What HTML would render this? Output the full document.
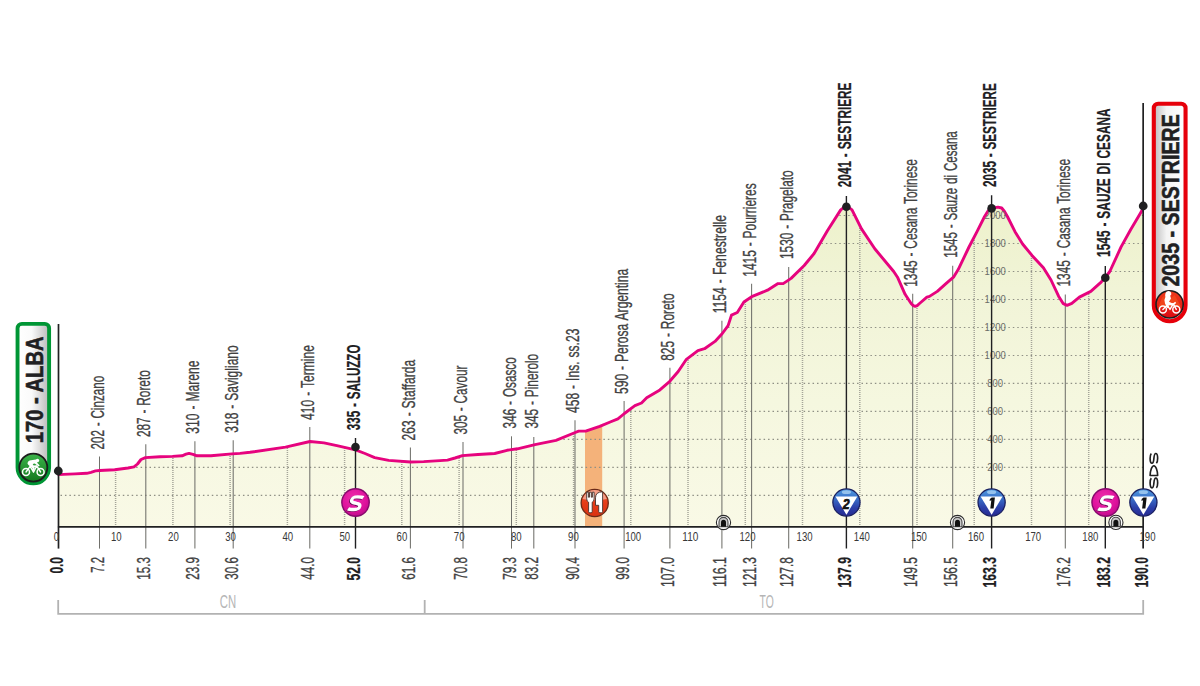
<!DOCTYPE html>
<html><head><meta charset="utf-8"><title>Stage profile</title>
<style>html,body{margin:0;padding:0;background:#fff;}svg{display:block;}</style></head><body>
<svg width="1200" height="686" viewBox="0 0 1200 686">
<defs>
<linearGradient id="gfill" x1="0" y1="205" x2="0" y2="527" gradientUnits="userSpaceOnUse"><stop offset="0" stop-color="#edf1cb"/><stop offset="0.26" stop-color="#f1f4d7"/><stop offset="0.61" stop-color="#f5f7df"/><stop offset="1" stop-color="#f9f9e6"/></linearGradient>
<clipPath id="cp"><polygon points="58.7,474.6 63.1,474.4 75.0,473.9 86.7,473.3 91.0,472.3 95.5,470.9 99.8,470.5 114.7,469.8 128.0,468.0 134.0,466.9 137.5,464.0 141.0,459.5 145.4,457.6 160.0,456.8 172.5,456.4 182.1,455.8 186.0,454.2 189.1,453.4 193.0,454.3 197.0,455.8 211.0,455.8 232.0,453.9 240.0,453.4 250.0,452.3 285.5,447.1 310.0,441.5 324.0,442.9 338.0,445.9 355.5,449.9 365.0,453.5 374.7,457.6 388.7,460.4 410.6,462.0 423.7,461.6 440.0,460.6 447.5,460.1 455.0,458.0 462.4,455.6 478.0,454.5 494.7,453.5 507.0,450.3 517.5,448.8 535.0,444.7 556.0,440.4 575.2,432.5 578.7,431.1 585.7,431.1 599.7,426.4 610.2,422.0 617.9,418.8 624.4,413.5 634.9,405.7 641.5,403.0 646.7,397.8 659.9,389.9 669.8,381.3 678.2,371.5 686.1,359.7 697.9,350.6 704.5,348.7 715.0,341.4 722.3,333.5 728.1,325.6 731.5,315.1 737.3,312.5 743.9,302.0 751.7,296.7 767.5,290.2 778.0,283.6 783.2,283.6 791.1,278.4 804.2,265.5 814.1,253.5 827.4,230.8 840.7,209.9 844.0,207.4 846.4,206.9 849.0,207.6 852.0,209.9 861.5,228.9 874.8,248.8 893.7,271.5 897.5,277.2 905.1,294.3 911.3,303.7 913.3,305.6 915.2,306.3 917.2,305.6 919.5,303.5 926.9,297.1 929.5,296.4 937.3,291.4 946.8,282.9 953.5,277.2 958.2,269.6 969.0,247.0 977.0,231.7 984.6,216.5 988.0,211.0 991.3,208.4 997.9,207.1 1001.7,208.0 1004.5,211.5 1007.4,216.5 1015.0,231.7 1022.6,244.0 1032.0,255.4 1043.4,267.7 1051.0,280.0 1058.6,296.2 1063.3,303.7 1067.1,305.3 1071.8,303.4 1079.4,297.1 1090.8,291.4 1100.3,282.9 1105.0,277.8 1109.8,271.5 1121.1,246.9 1130.6,229.8 1140.1,213.7 1143.4,208.0 1143.4,526.85 58.7,526.85"/></clipPath>
<radialGradient id="gS" cx="0.45" cy="0.35" r="0.75"><stop offset="0" stop-color="#ee30ac"/><stop offset="0.6" stop-color="#de129c"/><stop offset="1" stop-color="#b00a84"/></radialGradient>
<linearGradient id="gK" x1="0" y1="0" x2="0" y2="1"><stop offset="0" stop-color="#4f9be0"/><stop offset="0.35" stop-color="#3a6fc8"/><stop offset="0.7" stop-color="#2c3fa8"/><stop offset="1" stop-color="#262a92"/></linearGradient>
<linearGradient id="gF" x1="0" y1="0" x2="0" y2="1"><stop offset="0" stop-color="#f0603a"/><stop offset="0.5" stop-color="#e63c18"/><stop offset="1" stop-color="#d93212"/></linearGradient>
<linearGradient id="gG" x1="0" y1="0" x2="0" y2="1"><stop offset="0" stop-color="#3cb44a"/><stop offset="1" stop-color="#13781e"/></linearGradient>
<linearGradient id="gR" x1="0" y1="0" x2="0" y2="1"><stop offset="0" stop-color="#ee3a1a"/><stop offset="1" stop-color="#dc0c14"/></linearGradient>
<linearGradient id="gBoxL" x1="0" y1="0" x2="1" y2="0"><stop offset="0" stop-color="#ffffff"/><stop offset="0.45" stop-color="#fafafa"/><stop offset="1" stop-color="#b9b9b9"/></linearGradient>
<linearGradient id="gBoxR" x1="0" y1="0" x2="1" y2="0"><stop offset="0" stop-color="#bdbdbd"/><stop offset="0.4" stop-color="#f4f4f4"/><stop offset="1" stop-color="#ffffff"/></linearGradient>
</defs>
<rect width="1200" height="686" fill="#ffffff"/>
<polygon points="58.7,474.6 63.1,474.4 75.0,473.9 86.7,473.3 91.0,472.3 95.5,470.9 99.8,470.5 114.7,469.8 128.0,468.0 134.0,466.9 137.5,464.0 141.0,459.5 145.4,457.6 160.0,456.8 172.5,456.4 182.1,455.8 186.0,454.2 189.1,453.4 193.0,454.3 197.0,455.8 211.0,455.8 232.0,453.9 240.0,453.4 250.0,452.3 285.5,447.1 310.0,441.5 324.0,442.9 338.0,445.9 355.5,449.9 365.0,453.5 374.7,457.6 388.7,460.4 410.6,462.0 423.7,461.6 440.0,460.6 447.5,460.1 455.0,458.0 462.4,455.6 478.0,454.5 494.7,453.5 507.0,450.3 517.5,448.8 535.0,444.7 556.0,440.4 575.2,432.5 578.7,431.1 585.7,431.1 599.7,426.4 610.2,422.0 617.9,418.8 624.4,413.5 634.9,405.7 641.5,403.0 646.7,397.8 659.9,389.9 669.8,381.3 678.2,371.5 686.1,359.7 697.9,350.6 704.5,348.7 715.0,341.4 722.3,333.5 728.1,325.6 731.5,315.1 737.3,312.5 743.9,302.0 751.7,296.7 767.5,290.2 778.0,283.6 783.2,283.6 791.1,278.4 804.2,265.5 814.1,253.5 827.4,230.8 840.7,209.9 844.0,207.4 846.4,206.9 849.0,207.6 852.0,209.9 861.5,228.9 874.8,248.8 893.7,271.5 897.5,277.2 905.1,294.3 911.3,303.7 913.3,305.6 915.2,306.3 917.2,305.6 919.5,303.5 926.9,297.1 929.5,296.4 937.3,291.4 946.8,282.9 953.5,277.2 958.2,269.6 969.0,247.0 977.0,231.7 984.6,216.5 988.0,211.0 991.3,208.4 997.9,207.1 1001.7,208.0 1004.5,211.5 1007.4,216.5 1015.0,231.7 1022.6,244.0 1032.0,255.4 1043.4,267.7 1051.0,280.0 1058.6,296.2 1063.3,303.7 1067.1,305.3 1071.8,303.4 1079.4,297.1 1090.8,291.4 1100.3,282.9 1105.0,277.8 1109.8,271.5 1121.1,246.9 1130.6,229.8 1140.1,213.7 1143.4,208.0 1143.4,526.85 58.7,526.85" fill="url(#gfill)"/>
<g clip-path="url(#cp)">
<rect x="585" y="400" width="17.2" height="126.85000000000002" fill="#f4b27a"/>
<line x1="60.5" y1="495.4" x2="1143" y2="495.4" stroke="#8f9085" stroke-width="1.1" stroke-dasharray="1.5 2.95"/>
<line x1="60.5" y1="467.4" x2="1143" y2="467.4" stroke="#8f9085" stroke-width="1.1" stroke-dasharray="1.5 2.95"/>
<line x1="60.5" y1="439.4" x2="1143" y2="439.4" stroke="#8f9085" stroke-width="1.1" stroke-dasharray="1.5 2.95"/>
<line x1="60.5" y1="411.4" x2="1143" y2="411.4" stroke="#8f9085" stroke-width="1.1" stroke-dasharray="1.5 2.95"/>
<line x1="60.5" y1="383.4" x2="1143" y2="383.4" stroke="#8f9085" stroke-width="1.1" stroke-dasharray="1.5 2.95"/>
<line x1="60.5" y1="355.5" x2="1143" y2="355.5" stroke="#8f9085" stroke-width="1.1" stroke-dasharray="1.5 2.95"/>
<line x1="60.5" y1="327.5" x2="1143" y2="327.5" stroke="#8f9085" stroke-width="1.1" stroke-dasharray="1.5 2.95"/>
<line x1="60.5" y1="299.5" x2="1143" y2="299.5" stroke="#8f9085" stroke-width="1.1" stroke-dasharray="1.5 2.95"/>
<line x1="60.5" y1="271.5" x2="1143" y2="271.5" stroke="#8f9085" stroke-width="1.1" stroke-dasharray="1.5 2.95"/>
<line x1="60.5" y1="243.5" x2="1143" y2="243.5" stroke="#8f9085" stroke-width="1.1" stroke-dasharray="1.5 2.95"/>
<line x1="60.5" y1="215.5" x2="1143" y2="215.5" stroke="#8f9085" stroke-width="1.1" stroke-dasharray="1.5 2.95"/>
<line x1="115.6" y1="200" x2="115.6" y2="526.85" stroke="#a4a498" stroke-width="1.5" stroke-dasharray="1 1"/>
<line x1="172.9" y1="200" x2="172.9" y2="526.85" stroke="#a4a498" stroke-width="1.5" stroke-dasharray="1 1"/>
<line x1="230.1" y1="200" x2="230.1" y2="526.85" stroke="#a4a498" stroke-width="1.5" stroke-dasharray="1 1"/>
<line x1="287.4" y1="200" x2="287.4" y2="526.85" stroke="#a4a498" stroke-width="1.5" stroke-dasharray="1 1"/>
<line x1="344.6" y1="200" x2="344.6" y2="526.85" stroke="#a4a498" stroke-width="1.5" stroke-dasharray="1 1"/>
<line x1="401.8" y1="200" x2="401.8" y2="526.85" stroke="#a4a498" stroke-width="1.5" stroke-dasharray="1 1"/>
<line x1="459.1" y1="200" x2="459.1" y2="526.85" stroke="#a4a498" stroke-width="1.5" stroke-dasharray="1 1"/>
<line x1="516.3" y1="200" x2="516.3" y2="526.85" stroke="#a4a498" stroke-width="1.5" stroke-dasharray="1 1"/>
<line x1="573.6" y1="200" x2="573.6" y2="526.85" stroke="#a4a498" stroke-width="1.5" stroke-dasharray="1 1"/>
<line x1="630.8" y1="200" x2="630.8" y2="526.85" stroke="#a4a498" stroke-width="1.5" stroke-dasharray="1 1"/>
<line x1="688.0" y1="200" x2="688.0" y2="526.85" stroke="#a4a498" stroke-width="1.5" stroke-dasharray="1 1"/>
<line x1="745.3" y1="200" x2="745.3" y2="526.85" stroke="#a4a498" stroke-width="1.5" stroke-dasharray="1 1"/>
<line x1="802.5" y1="200" x2="802.5" y2="526.85" stroke="#a4a498" stroke-width="1.5" stroke-dasharray="1 1"/>
<line x1="859.8" y1="200" x2="859.8" y2="526.85" stroke="#a4a498" stroke-width="1.5" stroke-dasharray="1 1"/>
<line x1="917.0" y1="200" x2="917.0" y2="526.85" stroke="#a4a498" stroke-width="1.5" stroke-dasharray="1 1"/>
<line x1="974.2" y1="200" x2="974.2" y2="526.85" stroke="#a4a498" stroke-width="1.5" stroke-dasharray="1 1"/>
<line x1="1031.5" y1="200" x2="1031.5" y2="526.85" stroke="#a4a498" stroke-width="1.5" stroke-dasharray="1 1"/>
<line x1="1088.7" y1="200" x2="1088.7" y2="526.85" stroke="#a4a498" stroke-width="1.5" stroke-dasharray="1 1"/>
</g>
<line x1="99.5" y1="456.5" x2="99.5" y2="548.6" stroke="#70706b" stroke-width="1.05"/>
<line x1="145.8" y1="444.3" x2="145.8" y2="548.6" stroke="#70706b" stroke-width="1.05"/>
<line x1="194.9" y1="441.2" x2="194.9" y2="548.6" stroke="#70706b" stroke-width="1.05"/>
<line x1="233.2" y1="440.2" x2="233.2" y2="548.6" stroke="#70706b" stroke-width="1.05"/>
<line x1="309.8" y1="427.1" x2="309.8" y2="548.6" stroke="#70706b" stroke-width="1.05"/>
<line x1="410.4" y1="447.6" x2="410.4" y2="548.6" stroke="#70706b" stroke-width="1.05"/>
<line x1="463.0" y1="442.0" x2="463.0" y2="548.6" stroke="#70706b" stroke-width="1.05"/>
<line x1="511.5" y1="436.3" x2="511.5" y2="548.6" stroke="#70706b" stroke-width="1.05"/>
<line x1="533.8" y1="436.9" x2="533.8" y2="548.6" stroke="#70706b" stroke-width="1.05"/>
<line x1="575.0" y1="420.3" x2="575.0" y2="548.6" stroke="#70706b" stroke-width="1.05"/>
<line x1="624.1" y1="401.0" x2="624.1" y2="548.6" stroke="#70706b" stroke-width="1.05"/>
<line x1="669.9" y1="367.7" x2="669.9" y2="548.6" stroke="#70706b" stroke-width="1.05"/>
<line x1="721.9" y1="320.8" x2="721.9" y2="548.6" stroke="#70706b" stroke-width="1.05"/>
<line x1="751.6" y1="283.8" x2="751.6" y2="548.6" stroke="#70706b" stroke-width="1.05"/>
<line x1="788.7" y1="266.9" x2="788.7" y2="548.6" stroke="#70706b" stroke-width="1.05"/>
<line x1="912.7" y1="293.8" x2="912.7" y2="548.6" stroke="#70706b" stroke-width="1.05"/>
<line x1="952.7" y1="265.8" x2="952.7" y2="548.6" stroke="#70706b" stroke-width="1.05"/>
<line x1="1065.3" y1="294.5" x2="1065.3" y2="548.6" stroke="#70706b" stroke-width="1.05"/>
<polyline points="58.7,474.6 63.1,474.4 75.0,473.9 86.7,473.3 91.0,472.3 95.5,470.9 99.8,470.5 114.7,469.8 128.0,468.0 134.0,466.9 137.5,464.0 141.0,459.5 145.4,457.6 160.0,456.8 172.5,456.4 182.1,455.8 186.0,454.2 189.1,453.4 193.0,454.3 197.0,455.8 211.0,455.8 232.0,453.9 240.0,453.4 250.0,452.3 285.5,447.1 310.0,441.5 324.0,442.9 338.0,445.9 355.5,449.9 365.0,453.5 374.7,457.6 388.7,460.4 410.6,462.0 423.7,461.6 440.0,460.6 447.5,460.1 455.0,458.0 462.4,455.6 478.0,454.5 494.7,453.5 507.0,450.3 517.5,448.8 535.0,444.7 556.0,440.4 575.2,432.5 578.7,431.1 585.7,431.1 599.7,426.4 610.2,422.0 617.9,418.8 624.4,413.5 634.9,405.7 641.5,403.0 646.7,397.8 659.9,389.9 669.8,381.3 678.2,371.5 686.1,359.7 697.9,350.6 704.5,348.7 715.0,341.4 722.3,333.5 728.1,325.6 731.5,315.1 737.3,312.5 743.9,302.0 751.7,296.7 767.5,290.2 778.0,283.6 783.2,283.6 791.1,278.4 804.2,265.5 814.1,253.5 827.4,230.8 840.7,209.9 844.0,207.4 846.4,206.9 849.0,207.6 852.0,209.9 861.5,228.9 874.8,248.8 893.7,271.5 897.5,277.2 905.1,294.3 911.3,303.7 913.3,305.6 915.2,306.3 917.2,305.6 919.5,303.5 926.9,297.1 929.5,296.4 937.3,291.4 946.8,282.9 953.5,277.2 958.2,269.6 969.0,247.0 977.0,231.7 984.6,216.5 988.0,211.0 991.3,208.4 997.9,207.1 1001.7,208.0 1004.5,211.5 1007.4,216.5 1015.0,231.7 1022.6,244.0 1032.0,255.4 1043.4,267.7 1051.0,280.0 1058.6,296.2 1063.3,303.7 1067.1,305.3 1071.8,303.4 1079.4,297.1 1090.8,291.4 1100.3,282.9 1105.0,277.8 1109.8,271.5 1121.1,246.9 1130.6,229.8 1140.1,213.7 1143.4,208.0" fill="none" stroke="#e6037e" stroke-width="2.9" stroke-linejoin="round" stroke-linecap="round"/>
<g clip-path="url(#cp)">
<text x="995.2" y="471.3" font-family="Liberation Sans, sans-serif" font-size="11" fill="#6c6c68" text-anchor="middle" textLength="15.9" lengthAdjust="spacingAndGlyphs">200</text>
<text x="995.2" y="443.3" font-family="Liberation Sans, sans-serif" font-size="11" fill="#6c6c68" text-anchor="middle" textLength="15.9" lengthAdjust="spacingAndGlyphs">400</text>
<text x="995.2" y="415.3" font-family="Liberation Sans, sans-serif" font-size="11" fill="#6c6c68" text-anchor="middle" textLength="15.9" lengthAdjust="spacingAndGlyphs">600</text>
<text x="995.2" y="387.3" font-family="Liberation Sans, sans-serif" font-size="11" fill="#6c6c68" text-anchor="middle" textLength="15.9" lengthAdjust="spacingAndGlyphs">800</text>
<text x="995.2" y="359.4" font-family="Liberation Sans, sans-serif" font-size="11" fill="#6c6c68" text-anchor="middle" textLength="21.2" lengthAdjust="spacingAndGlyphs">1000</text>
<text x="995.2" y="331.4" font-family="Liberation Sans, sans-serif" font-size="11" fill="#6c6c68" text-anchor="middle" textLength="21.2" lengthAdjust="spacingAndGlyphs">1200</text>
<text x="995.2" y="303.4" font-family="Liberation Sans, sans-serif" font-size="11" fill="#6c6c68" text-anchor="middle" textLength="21.2" lengthAdjust="spacingAndGlyphs">1400</text>
<text x="995.2" y="275.4" font-family="Liberation Sans, sans-serif" font-size="11" fill="#6c6c68" text-anchor="middle" textLength="21.2" lengthAdjust="spacingAndGlyphs">1600</text>
<text x="995.2" y="247.4" font-family="Liberation Sans, sans-serif" font-size="11" fill="#6c6c68" text-anchor="middle" textLength="21.2" lengthAdjust="spacingAndGlyphs">1800</text>
<text x="995.2" y="219.4" font-family="Liberation Sans, sans-serif" font-size="11" fill="#6c6c68" text-anchor="middle" textLength="21.2" lengthAdjust="spacingAndGlyphs">2000</text>
</g>
<line x1="355.5" y1="438.0" x2="355.5" y2="548.6" stroke="#202022" stroke-width="1.4"/>
<circle cx="355.5" cy="447.0" r="4.3" fill="#202022"/>
<line x1="846.4" y1="196.0" x2="846.4" y2="548.6" stroke="#202022" stroke-width="1.4"/>
<circle cx="846.4" cy="206.7" r="4.3" fill="#202022"/>
<line x1="991.6" y1="195.2" x2="991.6" y2="548.6" stroke="#202022" stroke-width="1.4"/>
<circle cx="991.6" cy="208.4" r="4.3" fill="#202022"/>
<line x1="1105.3" y1="265.9" x2="1105.3" y2="548.6" stroke="#202022" stroke-width="1.4"/>
<circle cx="1105.3" cy="277.8" r="4.3" fill="#202022"/>
<line x1="58.5" y1="324" x2="58.5" y2="548.6" stroke="#202022" stroke-width="1.7"/>
<circle cx="58.3" cy="471.0" r="4.4" fill="#202022"/>
<line x1="1143.15" y1="103" x2="1143.15" y2="548.6" stroke="#202022" stroke-width="1.7"/>
<circle cx="1143.2" cy="206.0" r="4.4" fill="#202022"/>
<line x1="57.9" y1="526.85" x2="1144" y2="526.85" stroke="#202022" stroke-width="1.6"/>
<text x="53.8" y="540.7" font-family="Liberation Sans, sans-serif" font-size="12" fill="#383838" textLength="5.3" lengthAdjust="spacingAndGlyphs">0</text>
<text x="110.9" y="540.7" font-family="Liberation Sans, sans-serif" font-size="12" fill="#383838" textLength="10.7" lengthAdjust="spacingAndGlyphs">10</text>
<text x="168.1" y="540.7" font-family="Liberation Sans, sans-serif" font-size="12" fill="#383838" textLength="10.7" lengthAdjust="spacingAndGlyphs">20</text>
<text x="225.2" y="540.7" font-family="Liberation Sans, sans-serif" font-size="12" fill="#383838" textLength="10.7" lengthAdjust="spacingAndGlyphs">30</text>
<text x="282.4" y="540.7" font-family="Liberation Sans, sans-serif" font-size="12" fill="#383838" textLength="10.7" lengthAdjust="spacingAndGlyphs">40</text>
<text x="339.5" y="540.7" font-family="Liberation Sans, sans-serif" font-size="12" fill="#383838" textLength="10.7" lengthAdjust="spacingAndGlyphs">50</text>
<text x="396.6" y="540.7" font-family="Liberation Sans, sans-serif" font-size="12" fill="#383838" textLength="10.7" lengthAdjust="spacingAndGlyphs">60</text>
<text x="453.8" y="540.7" font-family="Liberation Sans, sans-serif" font-size="12" fill="#383838" textLength="10.7" lengthAdjust="spacingAndGlyphs">70</text>
<text x="510.9" y="540.7" font-family="Liberation Sans, sans-serif" font-size="12" fill="#383838" textLength="10.7" lengthAdjust="spacingAndGlyphs">80</text>
<text x="568.1" y="540.7" font-family="Liberation Sans, sans-serif" font-size="12" fill="#383838" textLength="10.7" lengthAdjust="spacingAndGlyphs">90</text>
<text x="625.2" y="540.7" font-family="Liberation Sans, sans-serif" font-size="12" fill="#383838" textLength="16.0" lengthAdjust="spacingAndGlyphs">100</text>
<text x="682.3" y="540.7" font-family="Liberation Sans, sans-serif" font-size="12" fill="#383838" textLength="16.0" lengthAdjust="spacingAndGlyphs">110</text>
<text x="739.5" y="540.7" font-family="Liberation Sans, sans-serif" font-size="12" fill="#383838" textLength="16.0" lengthAdjust="spacingAndGlyphs">120</text>
<text x="796.6" y="540.7" font-family="Liberation Sans, sans-serif" font-size="12" fill="#383838" textLength="16.0" lengthAdjust="spacingAndGlyphs">130</text>
<text x="853.8" y="540.7" font-family="Liberation Sans, sans-serif" font-size="12" fill="#383838" textLength="16.0" lengthAdjust="spacingAndGlyphs">140</text>
<text x="910.9" y="540.7" font-family="Liberation Sans, sans-serif" font-size="12" fill="#383838" textLength="16.0" lengthAdjust="spacingAndGlyphs">150</text>
<text x="968.0" y="540.7" font-family="Liberation Sans, sans-serif" font-size="12" fill="#383838" textLength="16.0" lengthAdjust="spacingAndGlyphs">160</text>
<text x="1025.2" y="540.7" font-family="Liberation Sans, sans-serif" font-size="12" fill="#383838" textLength="16.0" lengthAdjust="spacingAndGlyphs">170</text>
<text x="1082.3" y="540.7" font-family="Liberation Sans, sans-serif" font-size="12" fill="#383838" textLength="16.0" lengthAdjust="spacingAndGlyphs">180</text>
<text x="1139.5" y="540.7" font-family="Liberation Sans, sans-serif" font-size="12" fill="#383838" textLength="16.0" lengthAdjust="spacingAndGlyphs">190</text>
<text transform="translate(103.8,449.4) rotate(-90)" font-family="Liberation Sans, sans-serif" font-size="17.6" fill="#414141" stroke="#414141" stroke-width="0.32" word-spacing="0.9" textLength="73.5" lengthAdjust="spacingAndGlyphs">202 - Cinzano</text>
<text transform="translate(150.1,437.1) rotate(-90)" font-family="Liberation Sans, sans-serif" font-size="17.6" fill="#414141" stroke="#414141" stroke-width="0.32" word-spacing="0.9" textLength="66.9" lengthAdjust="spacingAndGlyphs">287 - Roreto</text>
<text transform="translate(199.2,433.7) rotate(-90)" font-family="Liberation Sans, sans-serif" font-size="17.6" fill="#414141" stroke="#414141" stroke-width="0.32" word-spacing="0.9" textLength="73.1" lengthAdjust="spacingAndGlyphs">310 - Marene</text>
<text transform="translate(237.5,432.7) rotate(-90)" font-family="Liberation Sans, sans-serif" font-size="17.6" fill="#414141" stroke="#414141" stroke-width="0.32" word-spacing="0.9" textLength="87.4" lengthAdjust="spacingAndGlyphs">318 - Savigliano</text>
<text transform="translate(314.1,420.0) rotate(-90)" font-family="Liberation Sans, sans-serif" font-size="17.6" fill="#414141" stroke="#414141" stroke-width="0.32" word-spacing="0.9" textLength="75.0" lengthAdjust="spacingAndGlyphs">410 - Termine</text>
<text transform="translate(359.8,430.2) rotate(-90)" font-family="Liberation Sans, sans-serif" font-size="17.6" font-weight="bold" fill="#202022" stroke="#202022" stroke-width="0.2" word-spacing="0.9" textLength="85.7" lengthAdjust="spacingAndGlyphs">335 - SALUZZO</text>
<text transform="translate(414.7,440.4) rotate(-90)" font-family="Liberation Sans, sans-serif" font-size="17.6" fill="#414141" stroke="#414141" stroke-width="0.32" word-spacing="0.9" textLength="80.6" lengthAdjust="spacingAndGlyphs">263 - Staffarda</text>
<text transform="translate(467.3,434.6) rotate(-90)" font-family="Liberation Sans, sans-serif" font-size="17.6" fill="#414141" stroke="#414141" stroke-width="0.32" word-spacing="0.9" textLength="69.0" lengthAdjust="spacingAndGlyphs">305 - Cavour</text>
<text transform="translate(515.8,428.4) rotate(-90)" font-family="Liberation Sans, sans-serif" font-size="17.6" fill="#414141" stroke="#414141" stroke-width="0.32" word-spacing="0.9" textLength="71.2" lengthAdjust="spacingAndGlyphs">346 - Osasco</text>
<text transform="translate(538.1,428.6) rotate(-90)" font-family="Liberation Sans, sans-serif" font-size="17.6" fill="#414141" stroke="#414141" stroke-width="0.32" word-spacing="0.9" textLength="74.8" lengthAdjust="spacingAndGlyphs">345 - Pinerolo</text>
<text transform="translate(579.3,413.0) rotate(-90)" font-family="Liberation Sans, sans-serif" font-size="17.6" fill="#414141" stroke="#414141" stroke-width="0.32" word-spacing="0.9" textLength="84.4" lengthAdjust="spacingAndGlyphs">458 - Ins. ss.23</text>
<text transform="translate(628.4,394.0) rotate(-90)" font-family="Liberation Sans, sans-serif" font-size="17.6" fill="#414141" stroke="#414141" stroke-width="0.32" word-spacing="0.9" textLength="125.2" lengthAdjust="spacingAndGlyphs">590 - Perosa Argentina</text>
<text transform="translate(674.2,360.8) rotate(-90)" font-family="Liberation Sans, sans-serif" font-size="17.6" fill="#414141" stroke="#414141" stroke-width="0.32" word-spacing="0.9" textLength="67.3" lengthAdjust="spacingAndGlyphs">825 - Roreto</text>
<text transform="translate(726.2,313.3) rotate(-90)" font-family="Liberation Sans, sans-serif" font-size="17.6" fill="#414141" stroke="#414141" stroke-width="0.32" word-spacing="0.9" textLength="98.4" lengthAdjust="spacingAndGlyphs">1154 - Fenestrelle</text>
<text transform="translate(755.9,276.7) rotate(-90)" font-family="Liberation Sans, sans-serif" font-size="17.6" fill="#414141" stroke="#414141" stroke-width="0.32" word-spacing="0.9" textLength="93.3" lengthAdjust="spacingAndGlyphs">1415 - Pourrieres</text>
<text transform="translate(793.0,259.0) rotate(-90)" font-family="Liberation Sans, sans-serif" font-size="17.6" fill="#414141" stroke="#414141" stroke-width="0.32" word-spacing="0.9" textLength="88.6" lengthAdjust="spacingAndGlyphs">1530 - Pragelato</text>
<text transform="translate(850.7,187.2) rotate(-90)" font-family="Liberation Sans, sans-serif" font-size="17.6" font-weight="bold" fill="#202022" stroke="#202022" stroke-width="0.2" word-spacing="0.9" textLength="104.6" lengthAdjust="spacingAndGlyphs">2041 - SESTRIERE</text>
<text transform="translate(917.0,286.8) rotate(-90)" font-family="Liberation Sans, sans-serif" font-size="17.6" fill="#414141" stroke="#414141" stroke-width="0.32" word-spacing="0.9" textLength="127.6" lengthAdjust="spacingAndGlyphs">1345 - Cesana Torinese</text>
<text transform="translate(957.0,257.8) rotate(-90)" font-family="Liberation Sans, sans-serif" font-size="17.6" fill="#414141" stroke="#414141" stroke-width="0.32" word-spacing="0.9" textLength="126.6" lengthAdjust="spacingAndGlyphs">1545 - Sauze di Cesana</text>
<text transform="translate(995.9,187.1) rotate(-90)" font-family="Liberation Sans, sans-serif" font-size="17.6" font-weight="bold" fill="#202022" stroke="#202022" stroke-width="0.2" word-spacing="0.9" textLength="103.8" lengthAdjust="spacingAndGlyphs">2035 - SESTRIERE</text>
<text transform="translate(1069.6,286.5) rotate(-90)" font-family="Liberation Sans, sans-serif" font-size="17.6" fill="#414141" stroke="#414141" stroke-width="0.32" word-spacing="0.9" textLength="127.5" lengthAdjust="spacingAndGlyphs">1345 - Casana Torinese</text>
<text transform="translate(1109.6,256.9) rotate(-90)" font-family="Liberation Sans, sans-serif" font-size="17.6" font-weight="bold" fill="#202022" stroke="#202022" stroke-width="0.2" word-spacing="0.9" textLength="148.6" lengthAdjust="spacingAndGlyphs">1545 - SAUZE DI CESANA</text>
<text transform="translate(62.8,573.6) rotate(-90)" font-family="Liberation Sans, sans-serif" font-size="17.6" font-weight="bold" fill="#202022" stroke="#202022" stroke-width="0.2" textLength="16.6" lengthAdjust="spacingAndGlyphs">0.0</text>
<text transform="translate(103.9,572.7) rotate(-90)" font-family="Liberation Sans, sans-serif" font-size="17.6" fill="#414141" stroke="#414141" stroke-width="0.32" textLength="15.7" lengthAdjust="spacingAndGlyphs">7.2</text>
<text transform="translate(150.2,579.7) rotate(-90)" font-family="Liberation Sans, sans-serif" font-size="17.6" fill="#414141" stroke="#414141" stroke-width="0.32" textLength="22.7" lengthAdjust="spacingAndGlyphs">15.3</text>
<text transform="translate(199.3,579.7) rotate(-90)" font-family="Liberation Sans, sans-serif" font-size="17.6" fill="#414141" stroke="#414141" stroke-width="0.32" textLength="22.7" lengthAdjust="spacingAndGlyphs">23.9</text>
<text transform="translate(237.6,579.7) rotate(-90)" font-family="Liberation Sans, sans-serif" font-size="17.6" fill="#414141" stroke="#414141" stroke-width="0.32" textLength="22.7" lengthAdjust="spacingAndGlyphs">30.6</text>
<text transform="translate(314.2,579.7) rotate(-90)" font-family="Liberation Sans, sans-serif" font-size="17.6" fill="#414141" stroke="#414141" stroke-width="0.32" textLength="22.7" lengthAdjust="spacingAndGlyphs">44.0</text>
<text transform="translate(359.9,580.5) rotate(-90)" font-family="Liberation Sans, sans-serif" font-size="17.6" font-weight="bold" fill="#202022" stroke="#202022" stroke-width="0.2" textLength="23.5" lengthAdjust="spacingAndGlyphs">52.0</text>
<text transform="translate(414.8,579.7) rotate(-90)" font-family="Liberation Sans, sans-serif" font-size="17.6" fill="#414141" stroke="#414141" stroke-width="0.32" textLength="22.7" lengthAdjust="spacingAndGlyphs">61.6</text>
<text transform="translate(467.4,579.7) rotate(-90)" font-family="Liberation Sans, sans-serif" font-size="17.6" fill="#414141" stroke="#414141" stroke-width="0.32" textLength="22.7" lengthAdjust="spacingAndGlyphs">70.8</text>
<text transform="translate(515.9,579.7) rotate(-90)" font-family="Liberation Sans, sans-serif" font-size="17.6" fill="#414141" stroke="#414141" stroke-width="0.32" textLength="22.7" lengthAdjust="spacingAndGlyphs">79.3</text>
<text transform="translate(538.2,579.7) rotate(-90)" font-family="Liberation Sans, sans-serif" font-size="17.6" fill="#414141" stroke="#414141" stroke-width="0.32" textLength="22.7" lengthAdjust="spacingAndGlyphs">83.2</text>
<text transform="translate(579.4,579.7) rotate(-90)" font-family="Liberation Sans, sans-serif" font-size="17.6" fill="#414141" stroke="#414141" stroke-width="0.32" textLength="22.7" lengthAdjust="spacingAndGlyphs">90.4</text>
<text transform="translate(628.5,579.7) rotate(-90)" font-family="Liberation Sans, sans-serif" font-size="17.6" fill="#414141" stroke="#414141" stroke-width="0.32" textLength="22.7" lengthAdjust="spacingAndGlyphs">99.0</text>
<text transform="translate(674.3,587.0) rotate(-90)" font-family="Liberation Sans, sans-serif" font-size="17.6" fill="#414141" stroke="#414141" stroke-width="0.32" textLength="30.0" lengthAdjust="spacingAndGlyphs">107.0</text>
<text transform="translate(726.3,587.0) rotate(-90)" font-family="Liberation Sans, sans-serif" font-size="17.6" fill="#414141" stroke="#414141" stroke-width="0.32" textLength="30.0" lengthAdjust="spacingAndGlyphs">116.1</text>
<text transform="translate(756.0,587.0) rotate(-90)" font-family="Liberation Sans, sans-serif" font-size="17.6" fill="#414141" stroke="#414141" stroke-width="0.32" textLength="30.0" lengthAdjust="spacingAndGlyphs">121.3</text>
<text transform="translate(793.1,587.0) rotate(-90)" font-family="Liberation Sans, sans-serif" font-size="17.6" fill="#414141" stroke="#414141" stroke-width="0.32" textLength="30.0" lengthAdjust="spacingAndGlyphs">127.8</text>
<text transform="translate(850.8,587.6) rotate(-90)" font-family="Liberation Sans, sans-serif" font-size="17.6" font-weight="bold" fill="#202022" stroke="#202022" stroke-width="0.2" textLength="30.6" lengthAdjust="spacingAndGlyphs">137.9</text>
<text transform="translate(917.1,587.0) rotate(-90)" font-family="Liberation Sans, sans-serif" font-size="17.6" fill="#414141" stroke="#414141" stroke-width="0.32" textLength="30.0" lengthAdjust="spacingAndGlyphs">149.5</text>
<text transform="translate(957.1,587.0) rotate(-90)" font-family="Liberation Sans, sans-serif" font-size="17.6" fill="#414141" stroke="#414141" stroke-width="0.32" textLength="30.0" lengthAdjust="spacingAndGlyphs">156.5</text>
<text transform="translate(996.0,587.6) rotate(-90)" font-family="Liberation Sans, sans-serif" font-size="17.6" font-weight="bold" fill="#202022" stroke="#202022" stroke-width="0.2" textLength="30.6" lengthAdjust="spacingAndGlyphs">163.3</text>
<text transform="translate(1069.7,587.0) rotate(-90)" font-family="Liberation Sans, sans-serif" font-size="17.6" fill="#414141" stroke="#414141" stroke-width="0.32" textLength="30.0" lengthAdjust="spacingAndGlyphs">176.2</text>
<text transform="translate(1109.7,587.6) rotate(-90)" font-family="Liberation Sans, sans-serif" font-size="17.6" font-weight="bold" fill="#202022" stroke="#202022" stroke-width="0.2" textLength="30.6" lengthAdjust="spacingAndGlyphs">183.2</text>
<text transform="translate(1147.6,587.6) rotate(-90)" font-family="Liberation Sans, sans-serif" font-size="17.6" font-weight="bold" fill="#202022" stroke="#202022" stroke-width="0.2" textLength="30.6" lengthAdjust="spacingAndGlyphs">190.0</text>
<path d="M58.2,600 V613.8 H1143.2 V600 M424.7,600 V613.8" fill="none" stroke="#b2b2b2" stroke-width="1.8"/>
<text x="219.8" y="608.3" font-family="Liberation Sans, sans-serif" font-size="17.6" fill="#b5b5b5" textLength="16.4" lengthAdjust="spacingAndGlyphs">CN</text>
<text x="759.6" y="608.3" font-family="Liberation Sans, sans-serif" font-size="17.6" fill="#b5b5b5" textLength="14.2" lengthAdjust="spacingAndGlyphs">TO</text>
<g transform="translate(355.53000000000003,502.5)">
<circle r="13.7" fill="url(#gS)" stroke="#860a6c" stroke-width="1.4"/>
<path d="M6.4,-5.5 C5,-6.2 3,-6.3 0.2,-6.3 C-3.2,-6.3 -4.8,-5.2 -4.8,-3.2 C-4.8,-1.2 -3,-0.6 -0.6,-0.2 L0.8,0.1 C3.2,0.5 4.8,1.2 4.8,3.2 C4.8,5.2 3.2,6.3 -0.2,6.3 C-3,6.3 -5,6.2 -6.4,5.5" transform="translate(-0.5,1.3) skewX(-13)" fill="none" stroke="#5c0a4c" stroke-width="3.5" stroke-linejoin="round"/>
<path d="M6.4,-5.5 C5,-6.2 3,-6.3 0.2,-6.3 C-3.2,-6.3 -4.8,-5.2 -4.8,-3.2 C-4.8,-1.2 -3,-0.6 -0.6,-0.2 L0.8,0.1 C3.2,0.5 4.8,1.2 4.8,3.2 C4.8,5.2 3.2,6.3 -0.2,6.3 C-3,6.3 -5,6.2 -6.4,5.5" transform="translate(0.15,0.7) skewX(-13)" fill="none" stroke="#ffffff" stroke-width="3.3" stroke-linejoin="round"/>
</g>
<g transform="translate(594.7,503.0)">
<circle r="13.6" fill="url(#gF)" stroke="#6a2a18" stroke-width="1.3"/>
<path d="M-12.2,-4 A12.8,12.8 0 0 1 12.2,-4 Q0,-1.5 -12.2,-4Z" fill="#f6b7a6" opacity="0.75"/>
<path d="M-8.0,-10.8 H-6.3 V-5.8 H-5.2 V-10.8 H-3.4 V-5.8 H-2.3 V-10.8 H-0.6 V-4.2 Q-0.6,-1.6 -2.5,-0.8 V8.6 Q-2.5,9.8 -3.7,9.8 H-4.9 Q-6.1,9.8 -6.1,8.6 V-0.8 Q-8.0,-1.6 -8.0,-4.2 Z" fill="#ffffff" stroke="#43322e" stroke-width="0.9" stroke-linejoin="round"/>
<path d="M7.9,-11.2 v19.8 q0,1.2 -1.2,1.2 h-1.5 q-1.2,0 -1.2,-1.2 v-6.3 h-3.2 v-7.5 q0,-6 7.1,-6 z" fill="#ffffff" stroke="#43322e" stroke-width="0.9" stroke-linejoin="round"/>
</g>
<g transform="translate(723.5,522.5)">
<circle r="7.1" fill="#ffffff" stroke="#2a2a2a" stroke-width="1.1"/>
<path d="M-4.5,4.2 V-0.6 A4.5,4.5 0 0 1 4.5,-0.6 V4.2 Z" fill="#c9c9c9" stroke="#4a4a4a" stroke-width="1.1"/>
<path d="M-2.5,4.2 V0 A2.5,2.7 0 0 1 2.5,0 V4.2 Z" fill="#111111"/>
</g>
<g transform="translate(846.4485000000001,502.5)">
<circle r="13.6" fill="url(#gK)" stroke="#1a2060" stroke-width="1.3"/>
<ellipse cx="0" cy="-10.3" rx="4.6" ry="1.9" fill="#a9d0f2" opacity="0.8"/>
<polygon points="-11,-6 10.9,-6 0,12.2" fill="#ffffff"/>
<text x="-0.2" y="6.2" font-family="Liberation Sans, sans-serif" font-size="15.5" font-weight="bold" font-style="italic" text-anchor="middle" fill="#111111" stroke="#111111" stroke-width="0.7" transform="scale(0.8,1)">2</text>
</g>
<g transform="translate(957.5,522.5)">
<circle r="7.1" fill="#ffffff" stroke="#2a2a2a" stroke-width="1.1"/>
<path d="M-4.5,4.2 V-0.6 A4.5,4.5 0 0 1 4.5,-0.6 V4.2 Z" fill="#c9c9c9" stroke="#4a4a4a" stroke-width="1.1"/>
<path d="M-2.5,4.2 V0 A2.5,2.7 0 0 1 2.5,0 V4.2 Z" fill="#111111"/>
</g>
<g transform="translate(991.6095,502.5)">
<circle r="13.6" fill="url(#gK)" stroke="#1a2060" stroke-width="1.3"/>
<ellipse cx="0" cy="-10.3" rx="4.6" ry="1.9" fill="#a9d0f2" opacity="0.8"/>
<polygon points="-11,-6 10.9,-6 0,12.2" fill="#ffffff"/>
<polygon points="0.1,-4.9 3.3,-4.9 2.0,6.1 -1.3,6.1 -0.3,-2.2 -2.0,-1.5 -1.7,-3.6" fill="#111111"/>
</g>
<g transform="translate(1105.6379999999997,502.5)">
<circle r="13.7" fill="url(#gS)" stroke="#860a6c" stroke-width="1.4"/>
<path d="M6.4,-5.5 C5,-6.2 3,-6.3 0.2,-6.3 C-3.2,-6.3 -4.8,-5.2 -4.8,-3.2 C-4.8,-1.2 -3,-0.6 -0.6,-0.2 L0.8,0.1 C3.2,0.5 4.8,1.2 4.8,3.2 C4.8,5.2 3.2,6.3 -0.2,6.3 C-3,6.3 -5,6.2 -6.4,5.5" transform="translate(-0.5,1.3) skewX(-13)" fill="none" stroke="#5c0a4c" stroke-width="3.5" stroke-linejoin="round"/>
<path d="M6.4,-5.5 C5,-6.2 3,-6.3 0.2,-6.3 C-3.2,-6.3 -4.8,-5.2 -4.8,-3.2 C-4.8,-1.2 -3,-0.6 -0.6,-0.2 L0.8,0.1 C3.2,0.5 4.8,1.2 4.8,3.2 C4.8,5.2 3.2,6.3 -0.2,6.3 C-3,6.3 -5,6.2 -6.4,5.5" transform="translate(0.15,0.7) skewX(-13)" fill="none" stroke="#ffffff" stroke-width="3.3" stroke-linejoin="round"/>
</g>
<g transform="translate(1115.9,522.4)">
<circle r="7.1" fill="#ffffff" stroke="#2a2a2a" stroke-width="1.1"/>
<path d="M-4.5,4.2 V-0.6 A4.5,4.5 0 0 1 4.5,-0.6 V4.2 Z" fill="#c9c9c9" stroke="#4a4a4a" stroke-width="1.1"/>
<path d="M-2.5,4.2 V0 A2.5,2.7 0 0 1 2.5,0 V4.2 Z" fill="#111111"/>
</g>
<g transform="translate(1143.4,502.5)">
<circle r="13.6" fill="url(#gK)" stroke="#1a2060" stroke-width="1.3"/>
<ellipse cx="0" cy="-10.3" rx="4.6" ry="1.9" fill="#a9d0f2" opacity="0.8"/>
<polygon points="-11,-6 10.9,-6 0,12.2" fill="#ffffff"/>
<polygon points="0.1,-4.9 3.3,-4.9 2.0,6.1 -1.3,6.1 -0.3,-2.2 -2.0,-1.5 -1.7,-3.6" fill="#111111"/>
</g>
<g transform="translate(1158.5,488.7) rotate(-90)" fill="none" stroke="#1f1f1f" stroke-width="1.65" stroke-linejoin="round" stroke-linecap="butt">
<path d="M10.6,-7.2 C9.6,-8.1 8,-8.4 5.6,-8.4 C2.6,-8.4 0.9,-7.7 0.9,-6.5 C0.9,-5.2 2.4,-4.85 5.7,-4.6 C9.2,-4.3 10.6,-3.9 10.6,-2.7 C10.6,-1.5 8.9,-0.85 5.8,-0.85 C3.4,-0.85 1.8,-1.2 0.85,-2.1"/>
<path d="M13.2,-0.85 V-8.4 C18,-8.3 23.0,-6.6 23.0,-4.6 C23.0,-2.7 18,-0.95 13.2,-0.85 Z"/>
<path d="M10.6,-7.2 C9.6,-8.1 8,-8.4 5.6,-8.4 C2.6,-8.4 0.9,-7.7 0.9,-6.5 C0.9,-5.2 2.4,-4.85 5.7,-4.6 C9.2,-4.3 10.6,-3.9 10.6,-2.7 C10.6,-1.5 8.9,-0.85 5.8,-0.85 C3.4,-0.85 1.8,-1.2 0.85,-2.1" transform="translate(24.6,0)"/>
</g>
<path d="M21.85,323.9 H44.80 a4.3,4.3 0 0 1 4.3,4.3 V467.6 a15.775,15.775 0 0 1 -31.55,0 V328.2 a4.3,4.3 0 0 1 4.3,-4.3 Z" fill="url(#gBoxL)" stroke="#009635" stroke-width="3.9"/>
<text transform="translate(43.0,443.2) rotate(-90)" font-family="Liberation Sans, sans-serif" font-size="23.4" font-weight="bold" fill="#202022" stroke="#202022" stroke-width="0.55" textLength="106.7" lengthAdjust="spacingAndGlyphs">170 - ALBA</text>
<g transform="translate(33.3,467.6)">
<circle r="14.0" fill="url(#gG)" stroke="#1c1c1c" stroke-width="1.8"/>
<g fill="none" stroke="#ffffff" stroke-width="1.5"><circle cx="-7.3" cy="4.4" r="3.5"/><circle cx="7.3" cy="4.4" r="3.5"/></g>
<path d="M-7.3,4.4 L-3.2,-1.2 L3.4,-1.6 L7.3,4.4 M-3.2,-1.2 L0.2,4.6 L3.4,-1.6" fill="none" stroke="#ffffff" stroke-width="1.4" stroke-linejoin="round" stroke-linecap="round"/>
<path d="M-5.8,-3.8 Q-5.6,-7.2 -2.2,-7.4 L2.6,-8 Q4.2,-9.4 5.6,-8.2 Q6.6,-6.8 5.2,-5.6 L3.6,-5.2 L6.4,-2.2 L5.4,-1.2 L1.4,-4 L-0.6,-3.6 L1.6,0.4 L0.2,3.6 L-1.4,3 L-0.8,0.6 L-4.6,-2.4 Z" fill="#ffffff"/>
</g>
<path d="M1158.10,103.8 H1181.25 a4.3,4.3 0 0 1 4.3,4.3 V305.3 a15.875,15.875 0 0 1 -31.75,0 V108.1 a4.3,4.3 0 0 1 4.3,-4.3 Z" fill="url(#gBoxR)" stroke="#e6000a" stroke-width="4.1"/>
<text transform="translate(1178.8,286.6) rotate(-90)" font-family="Liberation Sans, sans-serif" font-size="23.6" font-weight="bold" fill="#202022" stroke="#202022" stroke-width="0.55" textLength="172.5" lengthAdjust="spacingAndGlyphs">2035 - SESTRIERE</text>
<g transform="translate(1169.6,304.4)">
<circle r="13.6" fill="url(#gR)" stroke="#1c1c1c" stroke-width="1.6"/>
<path d="M-11.5,3 L-7.5,-7 L-3,-10.8 L1,-6 L5,-9.5 L11.5,2 Z" fill="#f2481c" opacity="0.9"/>
<g fill="none" stroke="#ffffff" stroke-width="1.5"><circle cx="-6.7" cy="5.0" r="3.5"/><circle cx="6.7" cy="5.0" r="3.5"/></g>
<path d="M-6.7,5 L-2.4,0.6 L3.6,-0.6 L6.7,5 M-2.4,0.6 L0.4,5 L3.6,-0.6" fill="none" stroke="#ffffff" stroke-width="1.4" stroke-linejoin="round" stroke-linecap="round"/>
<path d="M-2.8,-13 Q0.6,-14 1.6,-11.6 Q2.2,-9.6 0.6,-8.6 L1.4,-5.8 L-0.6,-2.6 L3.2,-0.8 L5.6,-2.6 L6.6,-1.4 L3.4,1.4 L-1.4,0.4 L-0.4,3.4 L-2.2,3.8 L-4.6,-1 Q-6,-4.4 -4.2,-7.4 Q-5,-11.4 -2.8,-13 Z" fill="#ffffff"/>
</g>
</svg></body></html>
